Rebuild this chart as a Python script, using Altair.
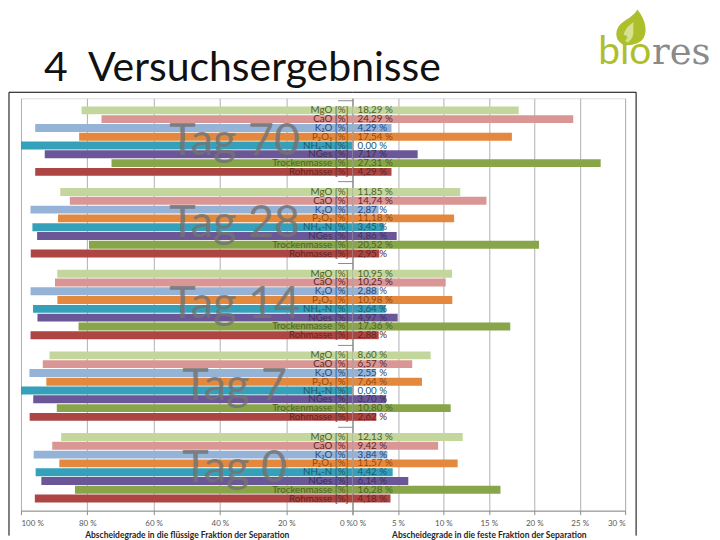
import altair as alt
import pandas as pd

groups = ["Tag 70", "Tag 28", "Tag 14", "Tag 7", "Tag 0"]
params = ["MgO", "CaO", "K2O", "P2O5", "NH4-N", "NGes", "Trockenmasse", "Rohmasse"]
param_labels = ["MgO [%]", "CaO [%]", "K₂O [%]", "P₂O₅ [%]", "NH₄-N [%]", "NGes [%]",
                "Trockenmasse [%]", "Rohmasse [%]"]

# Abscheidegrade in die feste Fraktion (%) per day
tag70 = [18.29, 24.29, 4.29, 17.54, 0.00, 7.17, 27.31, 4.29]
tag28 = [11.85, 14.74, 2.87, 11.18, 3.45, 4.86, 20.52, 2.95]
tag14 = [10.95, 10.25, 2.88, 10.98, 3.64, 4.97, 17.36, 2.88]
tag7 = [8.60, 6.57, 2.55, 7.64, 0.00, 3.70, 10.80, 2.62]
tag0 = [12.13, 9.42, 3.84, 11.57, 4.42, 6.14, 16.28, 4.18]
solid = {"Tag 70": tag70, "Tag 28": tag28, "Tag 14": tag14, "Tag 7": tag7, "Tag 0": tag0}

left_ticks = [100, 80, 60, 40, 20, 0]
right_ticks = [0, 5, 10, 15, 20, 25, 30]

bar_colors = ["#c3d69b", "#d99694", "#95b3d7", "#e4883e", "#35a0b9", "#6b5797", "#88a54a", "#ad4542"]
text_colors = ["#4f6228", "#632523", "#1f497d", "#974806", "#215968", "#3f3151", "#4f6228", "#632523"]

rows = []
for g in groups:
    for p, lab, v in zip(params, param_labels, solid[g]):
        rows.append({
            "group": g, "param": p, "label": lab, "solid": v,
            "liquid": round(100 - v, 2),
            "vlabel": f"{v:.2f}".replace(".", ",") + " %",
        })
df = pd.DataFrame(rows)
tags = pd.DataFrame({"group": groups})
one = pd.DataFrame({"k": [0]})

W_L, W_R, H = 332, 273, 413
FONT = "Lato"

y_scale = alt.Scale(domain=groups, paddingInner=0.15, paddingOuter=0.1)
Y = alt.Y("group:N", sort=groups, scale=y_scale, axis=None)
Y_R = alt.Y("group:N", sort=groups, scale=y_scale,
            axis=alt.Axis(labels=False, title=None, domain=True, domainColor="#8c8c8c",
                          ticks=True, tickSize=15, tickColor="#8c8c8c", bandPosition=-0.088,
                          grid=False))
YO = alt.YOffset("param:N", sort=params, scale=alt.Scale(domain=params, paddingInner=0.1, paddingOuter=0))

bar_color = alt.Color("param:N", scale=alt.Scale(domain=params, range=bar_colors), legend=None)
txt_color = alt.Color("param:N", scale=alt.Scale(domain=params, range=text_colors), legend=None)

axis_common = dict(labelExpr="datum.value + ' %'", grid=True, gridColor="#b0b0b0",
                   labelFontSize=8, labelColor="#595959", labelFont=FONT, labelPadding=5,
                   titleFontSize=8.5, titleFontWeight="bold", titleColor="#262626", titleFont=FONT,
                   titlePadding=3, domainColor="#8c8c8c", tickColor="#8c8c8c", tickSize=4)

left_x = alt.X("liquid:Q", scale=alt.Scale(domain=[0, 100], reverse=True),
               axis=alt.Axis(values=left_ticks,
                             title="Abscheidegrade in die flüssige Fraktion der Separation",
                             **axis_common))
right_x = alt.X("solid:Q", scale=alt.Scale(domain=[0, 30]),
                axis=alt.Axis(values=right_ticks,
                              title="Abscheidegrade in die feste Fraktion der Separation",
                              **axis_common))

# ---------- left panel ----------
l_bars = alt.Chart(df).mark_bar().encode(x=left_x, y=Y, yOffset=YO, color=bar_color)
l_tags = alt.Chart(tags).mark_text(align="center", baseline="middle", fontSize=45, font=FONT,
                                   color="#737373", opacity=0.82).encode(
    x=alt.value(214), y=Y, text="group:N")
l_labels = alt.Chart(df).mark_text(align="right", baseline="middle", fontSize=9.8, font=FONT).encode(
    x=alt.value(328), y=Y, yOffset=YO, text="label:N", color=txt_color)
frame_l_v = alt.Chart(one).mark_rule(color="#000000", strokeWidth=1).encode(
    x=alt.value(-12), y=alt.value(-6), y2=alt.value(438))
frame_l_h = alt.Chart(one).mark_rule(color="#000000", strokeWidth=1).encode(
    x=alt.value(-12), x2=alt.value(W_L), y=alt.value(-6))
title_4 = alt.Chart(one).mark_text(align="left", baseline="alphabetic", fontSize=41, font=FONT,
                                   color="#111111").encode(
    x=alt.value(23), y=alt.value(-17), text=alt.value("4"))
title_t = alt.Chart(one).mark_text(align="left", baseline="alphabetic", fontSize=41, font=FONT,
                                   color="#111111").encode(
    x=alt.value(67), y=alt.value(-17), text=alt.value("Versuchsergebnisse"))

left = alt.layer(l_bars, l_tags, l_labels, frame_l_v, frame_l_h, title_4, title_t).resolve_scale(
    color="independent").properties(width=W_L, height=H)

# ---------- right panel ----------
r_bars = alt.Chart(df).mark_bar().encode(x=right_x, y=Y_R, yOffset=YO, color=bar_color)
r_labels = alt.Chart(df).mark_text(align="left", baseline="middle", fontSize=9.8, font=FONT).encode(
    x=alt.value(5), y=Y_R, yOffset=YO, text="vlabel:N", color=txt_color)
frame_r_v = alt.Chart(one).mark_rule(color="#000000", strokeWidth=1).encode(
    x=alt.value(284), y=alt.value(-6), y2=alt.value(438))
frame_r_h = alt.Chart(one).mark_rule(color="#000000", strokeWidth=1).encode(
    x=alt.value(0), x2=alt.value(284), y=alt.value(-6))
flame = alt.Chart(one).mark_point(
    shape="M-0.35,1 C-0.95,0.8 -0.95,0.1 -0.5,-0.25 C-0.2,-0.5 0.15,-0.65 0.35,-1 C0.85,-0.4 0.95,0.35 0.6,0.72 C0.4,0.92 0.05,1 -0.35,1 Z",
    filled=True, color="#aebf2c", opacity=1, size=1296).encode(x=alt.value(279), y=alt.value(-71))
flame_in = alt.Chart(one).mark_point(
    shape="M-0.2,0.85 C-0.6,0.55 -0.4,0.05 0.15,-0.3 C0.05,0.15 0.3,0.5 -0.2,0.85 Z",
    filled=True, color="#d6e28f", opacity=1, size=1296).encode(x=alt.value(279), y=alt.value(-71))
logo_bio = alt.Chart(one).mark_text(align="left", baseline="alphabetic", fontSize=39, font=FONT,
                                    color="#aebf2c").encode(
    x=alt.value(246), y=alt.value(-34), text=alt.value("bio"))
logo_res = alt.Chart(one).mark_text(align="left", baseline="alphabetic", fontSize=37,
                                    font="DejaVu Serif", color="#8a8a8a").encode(
    x=alt.value(300), y=alt.value(-34), text=alt.value("res"))

right = alt.layer(r_bars, r_labels, frame_r_v, frame_r_h, flame, flame_in, logo_bio, logo_res).resolve_scale(
    color="independent").properties(width=W_R, height=H)

chart = alt.hconcat(left, right, spacing=0, bounds="flush", padding=0).configure_view(
    stroke="transparent").configure(background="#ffffff")

chart.save("out.html", embed_options={"renderer": "svg", "actions": False})
